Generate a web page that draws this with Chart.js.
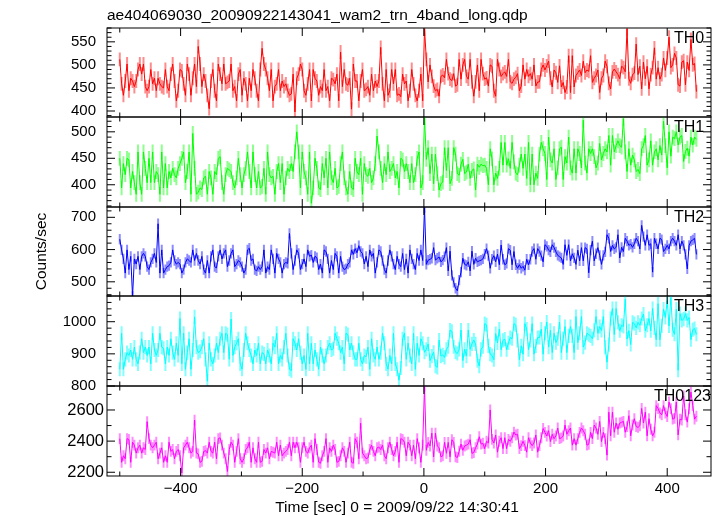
<!DOCTYPE html>
<html><head><meta charset="utf-8">
<script src="https://cdn.jsdelivr.net/npm/chart.js@4.4.1/dist/chart.umd.min.js"></script>
<style>
html,body{margin:0;padding:0;background:#fff;}
#wrap{position:relative;width:717px;height:516px;overflow:hidden;background:#fff;}
#wrap canvas{position:absolute;left:0;top:0;}
</style></head><body>
<div id="wrap">
<canvas id="c0" width="717" height="516"></canvas>
<canvas id="c1" width="717" height="516"></canvas>
<canvas id="c2" width="717" height="516"></canvas>
<canvas id="c3" width="717" height="516"></canvas>
<canvas id="c4" width="717" height="516"></canvas>
</div>
<script>
// ---------- text ----------
const TITLE = 'ae404069030_20090922143041_wam2_trn_4band_long.qdp';
const X_LABEL = 'Time [sec] 0 = 2009/09/22 14:30:41';
const Y_LABEL = 'Counts/sec';
const bandNames = ['TH0', 'TH1', 'TH2', 'TH3', 'TH0123'];

// ---------- time bins ----------
const T_START = -500;   // first bin time [s]
const BIN = 3;          // bin width [s]

// ---------- count rates ----------
const TH0 = [
512,459,434,465,502,444,471,465,453,465, 490,502,480,502,453,444,453,490,459,471,
444,471,459,453,450,490,453,444,480,502, 465,422,444,490,487,459,434,502,480,434,
471,502,453,540,502,453,480,465,434,405, 465,490,444,422,502,480,459,502,459,462,
465,502,444,453,422,480,490,434,471,459, 422,471,444,490,471,444,422,490,536,502,
490,471,444,490,422,453,459,490,444,465, 453,459,444,434,437,480,398,471,480,502,
490,444,434,459,490,422,490,471,465,434, 453,444,490,444,453,422,471,468,459,480,
422,528,453,490,459,456,471,404,502,465, 465,422,465,490,444,447,453,434,480,444,
465,453,465,538,459,422,490,434,444,490, 459,490,434,437,431,480,459,465,422,444,
490,459,434,422,444,480,422,578,512,463, 500,475,454,444,447,432,475,478,472,512,
481,469,466,481,454,457,512,469,500,512, 475,469,512,463,432,463,500,444,512,481,
469,472,454,500,497,444,432,512,490,475, 481,485,475,512,463,460,469,473,481,444,
454,500,469,490,475,481,469,500,454,463, 463,490,500,489,498,508,471,452,489,483,
462,498,452,462,440,452,520,440,520,452, 477,483,489,477,508,483,489,486,520,462,
471,477,489,440,471,477,508,497,460,448, 485,491,485,479,470,497,494,485,578,470,
460,479,482,545,479,497,448,506,470,497, 448,479,494,537,469,494,469,479,515,488,
515,560,494,500,525,515,457,454,506,509, 457,506,488,555,500,503,442
];
const TH1 = [
450,394,440,419,450,447,394,425,404,382, 462,404,382,462,431,404,450,404,462,404,
425,419,382,462,394,440,394,425,413,431, 419,413,431,440,450,462,404,425,462,382,
497,431,382,386,394,391,413,416,382,425, 413,382,425,419,450,453,404,382,419,431,
428,425,404,394,413,450,419,394,419,431, 462,425,394,462,419,394,425,394,397,431,
382,462,419,413,416,382,425,440,404,440, 382,413,431,425,440,425,462,500,462,394,
462,425,413,382,462,365,394,450,431,394, 391,440,413,450,394,462,413,404,431,394,
397,440,462,413,394,382,425,394,391,450, 425,419,450,382,440,419,416,431,404,413,
440,492,462,431,404,440,419,462,425,431, 440,413,425,394,450,447,425,440,425,404,
440,404,419,450,462,394,404,527,448,470, 421,458,402,458,421,390,402,405,470,427,
470,402,412,470,458,421,418,439,448,421, 424,439,412,427,430,390,439,433,439,436,
437,431,400,468,449,400,422,412,431,480, 437,480,437,449,431,480,443,422,419,437,
458,431,458,412,480,400,458,400,422,412, 458,480,468,459,410,490,447,441,468,410,
432,468,471,410,453,441,490,432,422,468, 422,468,459,432,522,441,422,468,459,468,
453,432,441,478,447,459,468,462,493,437, 493,462,474,483,474,471,525,462,425,468,
437,456,447,425,429,421,468,474,493,437, 447,483,437,462,468,447,474,456,520,474,
432,500,454,490,487,500,475,490,493,444, 463,469,454,490,475,490,486
];
const TH2 = [
632,599,571,527,599,538,579,455,571,555, 579,538,579,588,579,547,538,560,571,588,
560,680,527,599,527,538,547,550,560,599, 566,555,560,555,527,538,560,571,566,560,
599,566,588,566,555,579,538,527,566,527, 579,599,547,543,579,599,571,588,599,547,
566,588,599,547,555,566,560,547,527,538, 599,604,566,571,538,534,547,538,547,599,
527,547,538,599,571,527,588,571,560,527, 555,560,557,650,588,538,566,599,588,538,
555,571,547,599,579,583,560,579,575,538, 555,527,599,594,571,527,566,538,588,579,
527,579,547,538,541,555,560,599,585,603, 590,612,594,588,555,579,547,599,579,588,
527,560,599,594,566,538,527,566,599,579, 555,538,579,555,547,588,538,571,527,599,
571,555,538,588,566,599,566,730,554,567, 570,573,606,567,573,577,562,567,578,606,
534,595,520,498,480,472,505,530,573,554, 551,562,534,595,554,573,562,565,567,571,
586,603,581,542,570,581,562,586,553,614, 570,553,557,603,598,553,594,553,542,553,
542,548,536,570,553,570,594,603,570,603, 594,581,562,615,610,598,593,615,606,593,
582,578,574,554,615,582,615,565,587,574, 554,598,565,606,565,606,602,528,598,626,
565,587,606,582,554,582,593,646,635,594, 613,602,607,646,574,607,594,635,626,613,
617,607,618,635,626,602,675,640,613,646, 613,618,530,635,618,602,635,631,594,602,
613,602,626,635,626,613,646,602,626,613, 585,540,613,626,630,635,585
];
const TH3 = [
852,964,852,883,904,895,912,883,921,883, 869,904,947,904,921,895,921,869,964,912,
895,912,964,921,917,869,921,895,947,904, 883,933,895,1010,869,964,852,904,947,852,
912,1015,921,904,908,921,947,883,815,933, 883,869,895,933,904,947,964,904,964,960,
883,1008,895,921,933,947,869,852,912,964, 933,912,895,869,912,895,933,869,904,900,
869,912,895,869,933,921,964,869,895,883, 921,964,895,852,848,947,933,912,947,904,
869,895,852,964,869,933,869,912,883,852, 921,895,869,895,921,933,912,916,964,947,
933,904,921,869,964,960,912,933,904,883, 883,933,883,869,895,891,921,852,947,895,
883,921,883,904,964,933,869,852,895,869, 964,869,852,818,856,947,964,883,933,895,
869,964,852,933,895,947,933,905,914,931, 879,893,905,862,858,943,893,897,889,914,
922,974,970,922,905,901,914,974,879,914, 893,974,914,931,943,931,879,862,914,922,
994,990,925,899,895,882,963,934,977,913, 942,946,913,934,951,947,994,990,942,882,
925,899,994,977,913,942,994,899,925,951, 951,977,899,964,999,921,973,904,964,935,
947,999,904,947,985,904,956,985,956,904, 1016,935,964,1016,921,935,964,960,956,947,
973,1016,964,985,973,1016,921,874,929,1010, 1041,960,1041,998,972,989,985,1070,946,972,
929,998,994,981,998,989,1010,1024,972,989, 1010,972,1041,981,944,1056,944,987,1039,1013,
1066,987,1075,975,961,1039,849,1025,1004,1008, 1025,1004,1013,944,975,979,961
];
const TH0123 = [
2416,2264,2306,2287,2416,2410,2264,2393,2374,2323, 2357,2374,2323,2357,2346,2525,2416,2374,2357,2374,
2393,2287,2323,2357,2264,2306,2264,2393,2334,2346, 2287,2334,2346,2306,2195,2357,2374,2393,2357,2323,
2334,2535,2323,2318,2264,2270,2334,2339,2323,2393, 2334,2323,2393,2287,2416,2421,2374,2323,2287,2205,
2346,2393,2374,2264,2334,2416,2287,2264,2287,2346, 2357,2393,2264,2357,2287,2264,2393,2264,2270,2346,
2323,2357,2287,2334,2329,2323,2393,2306,2374,2306, 2323,2334,2346,2393,2306,2393,2357,2393,2357,2264,
2357,2393,2334,2323,2357,2374,2264,2416,2346,2264, 2258,2306,2334,2416,2264,2357,2334,2374,2346,2264,
2270,2306,2357,2334,2264,2323,2393,2264,2258,2416, 2393,2287,2515,2323,2306,2287,2292,2346,2374,2334,
2306,2357,2362,2346,2374,2306,2287,2357,2393,2346, 2306,2334,2393,2264,2416,2410,2393,2306,2393,2374,
2306,2374,2287,2416,2357,2264,2374,2752,2341,2392, 2369,2451,2299,2451,2369,2358,2299,2305,2392,2322,
2392,2299,2409,2392,2300,2295,2335,2381,2341,2369, 2374,2381,2409,2322,2327,2358,2381,2428,2381,2386,
2352,2399,2388,2600,2411,2388,2439,2329,2399,2422, 2352,2422,2352,2411,2399,2422,2458,2439,2444,2352,
2371,2399,2371,2329,2422,2388,2371,2388,2439,2329, 2371,2422,2481,2456,2433,2467,2397,2444,2416,2433,
2484,2416,2421,2433,2503,2444,2467,2484,2374,2416, 2374,2416,2456,2484,2467,2444,2374,2380,2456,2416,
2503,2484,2444,2526,2397,2456,2416,2310,2586,2434, 2586,2457,2516,2476,2516,2521,2527,2457,2493,2563,
2434,2504,2544,2493,2488,2499,2610,2516,2586,2434, 2544,2476,2434,2457,2628,2609,2581,2569,2628,2581,
2558,2651,2609,2541,2546,2651,2440,2541,2536,2690, 2569,2522,2609,2715,2628,2541,2560
];
// typical 1-sigma error bar per band (counts/sec)
const bandErrors = [15, 14, 16, 22, 35];

// ---------- axes ----------
const X_MIN = -521, X_MAX = 472;
const xTickValues = [-400, -200, 0, 200, 400];
const xTickLabels = ['\u2212400', '\u2212200', '0', '200', '400'];
const yMin = [387, 358, 456, 800, 2176];
const yMax = [580, 528, 732, 1080, 2754];
const yTicks0 = [400, 450, 500, 550];
const yTicks1 = [400, 450, 500];
const yTicks2 = [500, 600, 700];
const yTicks3 = [800, 900, 1000];
const yTicks4 = [2200, 2400, 2600];
const yMajorStep = [50, 50, 100, 100, 200];
const yMinorStep = [10, 10, 20, 20, 100];

// ---------- style ----------
const series = [TH0, TH1, TH2, TH3, TH0123];
const yTicks = [yTicks0, yTicks1, yTicks2, yTicks3, yTicks4];
const lineColors = ['#ff0000', '#00ff00', '#0000ff', '#00ffff', '#ff00ff'];
const errColors = ['rgba(255,0,0,0.45)', 'rgba(0,255,0,0.45)', 'rgba(0,0,255,0.45)', 'rgba(0,255,255,0.5)', 'rgba(255,0,255,0.45)'];
const PANEL_TOP = [28, 117, 207, 296, 386];
const PANEL_BOTTOM = [117, 207, 296, 386, 476];
const PLOT_LEFT = 107, PLOT_RIGHT = 711, W = 717, H = 516, PAD_LEFT = 28;
const LABEL_X = [674, 674, 674, 674, 654];
const FONT = '"Liberation Sans", Arial, Helvetica, sans-serif';
const MAJOR_LEN = 8, MINOR_LEN = 4.5;

const times = TH0.map((_, k) => T_START + k * BIN);

function isMultiple(v, step) { const r = v / step; return Math.abs(r - Math.round(r)) < 1e-9; }

function makeDeco(i) {
  return {
    id: 'deco' + i,
    beforeDatasetsDraw(chart) {
      const {ctx, chartArea: a} = chart;
      const xs = chart.scales.x, ys = chart.scales.y;
      const pts = chart.data.datasets[0].data;
      ctx.save();
      ctx.beginPath(); ctx.rect(a.left, a.top, a.right - a.left, a.bottom - a.top); ctx.clip();
      ctx.strokeStyle = errColors[i]; ctx.lineWidth = 2;
      ctx.beginPath();
      for (const p of pts) {
        const px = xs.getPixelForValue(p.x);
        ctx.moveTo(px, ys.getPixelForValue(p.y - bandErrors[i]));
        ctx.lineTo(px, ys.getPixelForValue(p.y + bandErrors[i]));
      }
      ctx.stroke();
      ctx.restore();
    },
    afterDraw(chart) {
      const {ctx, chartArea: a} = chart;
      const xs = chart.scales.x, ys = chart.scales.y;
      ctx.save();
      ctx.strokeStyle = '#000'; ctx.lineWidth = 1;
      ctx.strokeRect(a.left, a.top, a.right - a.left, a.bottom - a.top);
      ctx.beginPath();
      const ms = yMinorStep[i];
      for (let v = Math.ceil(ys.min / ms) * ms; v <= ys.max; v += ms) {
        const py = ys.getPixelForValue(v);
        const len = isMultiple(v, yMajorStep[i]) ? MAJOR_LEN : MINOR_LEN;
        ctx.moveTo(a.left, py); ctx.lineTo(a.left + len, py);
        ctx.moveTo(a.right, py); ctx.lineTo(a.right - len, py);
      }
      for (let v = Math.ceil(xs.min / 100) * 100; v <= xs.max; v += 100) {
        const px = xs.getPixelForValue(v);
        const len = isMultiple(v, 200) ? MAJOR_LEN : MINOR_LEN;
        ctx.moveTo(px, a.top); ctx.lineTo(px, a.top + len);
        ctx.moveTo(px, a.bottom); ctx.lineTo(px, a.bottom - len);
      }
      ctx.stroke();
      ctx.fillStyle = '#000';
      ctx.textBaseline = 'alphabetic';
      ctx.textAlign = 'left';
      ctx.font = '16px ' + FONT;
      ctx.fillText(bandNames[i], LABEL_X[i], a.top + 15);
      if (i === 0) {
        ctx.font = '15.5px ' + FONT;
        ctx.fillText(TITLE, a.left, a.top - 8);
      }
      if (i === 4) {
        ctx.font = '15.5px ' + FONT;
        ctx.textAlign = 'center';
        ctx.fillText(X_LABEL, 397, 511.5);
      }
      ctx.restore();
    }
  };
}

function makeChart(i) {
  const isLast = i === 4;
  return new Chart(document.getElementById('c' + i), {
    type: 'line',
    data: {
      datasets: [{
        data: series[i].map((v, k) => ({x: times[k], y: v})),
        borderColor: lineColors[i],
        borderWidth: 1,
        pointRadius: 0,
        tension: 0,
        fill: false
      }]
    },
    options: {
      responsive: false,
      animation: false,
      devicePixelRatio: 1,
      parsing: false,
      events: [],
      layout: {padding: {left: PAD_LEFT, right: W - PLOT_RIGHT, top: PANEL_TOP[i], bottom: isLast ? 0 : H - PANEL_BOTTOM[i]}},
      plugins: {legend: {display: false}, tooltip: {enabled: false}, title: {display: false}},
      scales: {
        x: {
          type: 'linear', min: X_MIN, max: X_MAX, display: isLast,
          grid: {display: false, drawTicks: false}, border: {display: false},
          afterBuildTicks: s => { s.ticks = xTickValues.map(v => ({value: v})); },
          afterFit: s => { if (isLast) s.height = H - PANEL_BOTTOM[4]; },
          ticks: {
            autoSkip: false, maxRotation: 0, padding: 4, color: '#000',
            font: {family: FONT, size: 15},
            callback: v => xTickLabels[xTickValues.indexOf(v)]
          }
        },
        y: {
          type: 'linear', min: yMin[i], max: yMax[i],
          grid: {display: false, drawTicks: false}, border: {display: false},
          afterBuildTicks: s => { s.ticks = yTicks[i].map(v => ({value: v})); },
          afterFit: s => { s.width = PLOT_LEFT - PAD_LEFT; },
          ticks: {autoSkip: false, padding: isLast ? 3 : 11, color: '#000',
                  font: {family: FONT, size: isLast ? 16.5 : 15}, callback: v => String(v)},
          title: {display: i === 2, text: Y_LABEL, color: '#000', font: {family: FONT, size: 15.5}, padding: {top: 4, bottom: 4}}
        }
      }
    },
    plugins: [makeDeco(i)]
  });
}

for (let i = 0; i < 5; i++) makeChart(i);
</script>
</body></html>
